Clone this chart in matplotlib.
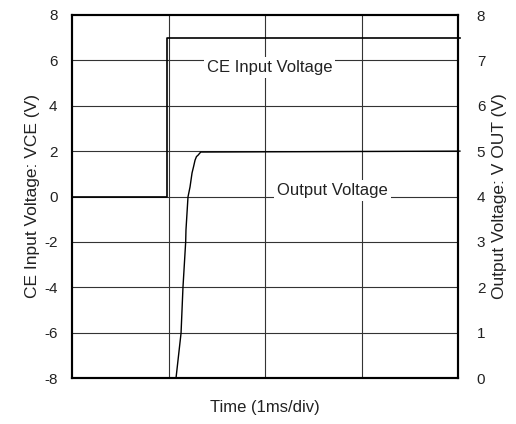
import numpy as np
import matplotlib
matplotlib.use("Agg")
import matplotlib.pyplot as plt

plt.rcParams['font.family'] = ['Liberation Sans', 'DejaVu Sans']
plt.rcParams['axes.unicode_minus'] = False

# time axis in ms (1 ms per division)
ce_time = [0.0, 0.98, 0.98, 4.02]
ce_volt = [0.0, 0.0, 7.0, 7.0]          # left axis, V

out_time = [1.078, 1.13, 1.15, 1.178, 1.181, 1.202, 1.223, 1.244, 1.26, 1.275, 1.29, 1.306, 1.334, 4.02]
out_volt = [0.0, 0.99, 2.0, 3.0, 3.26, 3.99, 4.21, 4.52, 4.66, 4.8, 4.88, 4.91, 4.98, 5.0]  # right axis, V

left_ticks = [-8, -6, -4, -2, 0, 2, 4, 6, 8]
right_ticks = [0, 1, 2, 3, 4, 5, 6, 7, 8]
time_div = [0, 1, 2, 3, 4]

fig = plt.figure(figsize=(5.16, 4.24), dpi=100)
ax = fig.add_axes([72 / 516, 46 / 424, 386 / 516, 363 / 424])
ax2 = ax.twinx()

ax.set_xlim(0, 4)
ax.set_ylim(-8, 8)
ax2.set_ylim(0, 8)

# grid
for t in time_div[1:-1]:
    ax.axvline(t, color='#333333', lw=0.8, zorder=1)
for v in left_ticks[1:-1]:
    ax.axhline(v, color='#333333', lw=0.8, zorder=1)

ax.plot(ce_time, ce_volt, color='black', lw=1.2, clip_on=False, zorder=3)
ax2.plot(out_time, out_volt, color='black', lw=1.0, clip_on=False, zorder=3)

ax.set_xticks(time_div)
ax.set_xticklabels([])
ax.tick_params(axis='x', length=0)
ax.set_yticks(left_ticks)
ax.tick_params(axis='y', length=0, pad=10.5, labelsize=11, labelcolor='#222222')
ax2.set_yticks(right_ticks)
ax2.tick_params(axis='y', length=0, pad=13.5, labelsize=11, labelcolor='#222222')

for a in (ax, ax2):
    for s in a.spines.values():
        s.set_linewidth(1.5)
        s.set_color('black')

txt = '#222222'
ax.set_xlabel("Time (1ms/div)", fontsize=12, labelpad=12, color=txt)
ax.set_ylabel("CE Input Voltage: VCE (V)", fontsize=12.5, labelpad=3, color=txt)
ax2.set_ylabel("Output Voltage: V OUT (V)", fontsize=12.5, labelpad=5, color=txt)

box = dict(facecolor='white', edgecolor='none', pad=2)
ax.text(2.05, 5.7, "CE Input Voltage", fontsize=12, ha='center', va='center', bbox=box, zorder=4, color=txt)
ax.text(2.7, 0.25, "Output Voltage", fontsize=12, ha='center', va='center', bbox=box, zorder=4, color=txt)

fig.savefig("out.png", dpi=100)
